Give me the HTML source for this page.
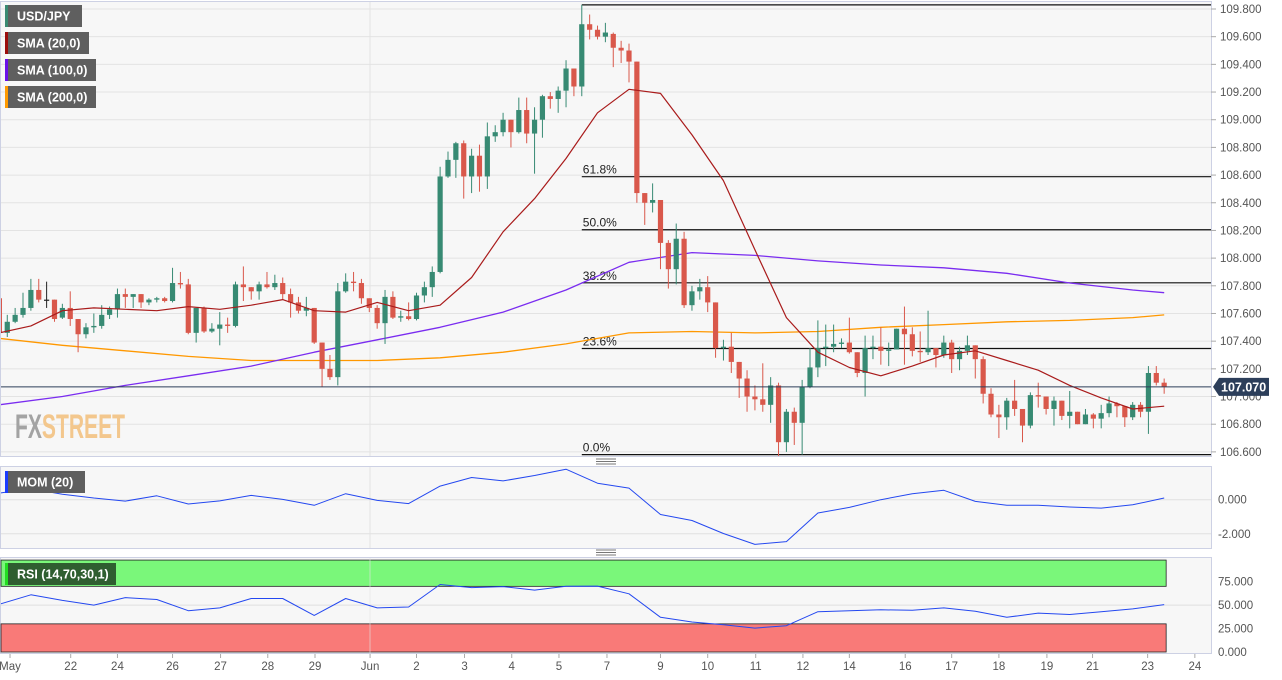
<!DOCTYPE html>
<html><head><meta charset="utf-8"><style>
html,body{margin:0;padding:0;background:#fff;}
svg{display:block;font-family:"Liberation Sans",sans-serif;}
</style></head><body>
<svg id="chart" xmlns="http://www.w3.org/2000/svg" width="1282" height="680" viewBox="0 0 1282 680"></svg>
<script>
// ---- data ----
const opens=[107.71,107.46,107.54,107.59,107.64,107.77,107.70,107.70,107.57,107.64,107.56,107.45,107.50,107.51,107.59,107.63,107.74,107.72,107.74,107.68,107.70,107.71,107.69,107.82,107.81,107.46,107.64,107.47,107.49,107.52,107.51,107.81,107.79,107.76,107.81,107.79,107.82,107.74,107.68,107.62,107.64,107.39,107.20,107.14,107.76,107.83,107.82,107.71,107.64,107.53,107.72,107.57,107.58,107.56,107.73,107.79,107.90,108.59,108.71,108.83,108.59,108.74,108.59,108.88,108.91,109.00,108.91,109.07,108.90,109.00,109.17,109.15,109.21,109.37,109.24,109.69,109.65,109.60,109.62,109.52,109.50,109.42,108.47,108.40,108.42,108.11,107.92,108.14,107.66,107.76,107.79,107.68,107.35,107.36,107.25,107.13,107.00,106.98,106.94,107.08,106.67,106.89,106.81,107.07,107.21,107.35,107.36,107.38,107.39,107.32,107.17,107.35,107.36,107.33,107.34,107.49,107.45,107.33,107.32,107.35,107.30,107.39,107.27,107.33,107.37,107.27,107.02,106.87,106.85,106.97,106.91,106.79,107.01,107.00,106.91,106.97,106.86,106.89,106.80,106.87,106.84,106.88,106.95,106.93,106.85,106.94,106.89,107.17,107.10];
const highs=[107.72,107.59,107.64,107.75,107.85,107.85,107.83,107.70,107.67,107.76,107.56,107.53,107.60,107.66,107.65,107.78,107.78,107.74,107.74,107.71,107.72,107.72,107.93,107.90,107.85,107.64,107.65,107.53,107.61,107.57,107.83,107.94,107.79,107.83,107.90,107.88,107.86,107.78,107.72,107.72,107.64,107.39,107.30,107.82,107.89,107.90,107.85,107.71,107.66,107.77,107.76,107.62,107.68,107.75,107.83,107.94,108.66,108.77,108.84,108.85,108.79,108.82,108.98,108.96,109.05,109.00,109.16,109.16,109.09,109.18,109.20,109.24,109.43,109.37,109.83,109.76,109.68,109.70,109.63,109.57,109.55,109.42,108.47,108.54,108.42,108.13,108.25,108.19,107.80,107.85,107.87,107.68,107.41,107.46,107.25,107.19,107.08,107.24,107.14,107.10,106.91,106.92,107.12,107.35,107.55,107.52,107.52,107.42,107.57,107.32,107.44,107.44,107.50,107.39,107.49,107.65,107.50,107.47,107.62,107.35,107.44,107.41,107.36,107.44,107.37,107.29,107.06,106.94,106.99,107.12,106.91,107.03,107.10,107.00,107.00,106.97,107.04,106.89,106.91,106.88,106.94,107.00,106.96,106.93,106.96,106.96,107.22,107.22,107.13];
const lows=[107.33,107.43,107.53,107.57,107.62,107.68,107.64,107.54,107.56,107.51,107.32,107.42,107.46,107.49,107.56,107.57,107.64,107.64,107.64,107.66,107.68,107.68,107.68,107.78,107.45,107.39,107.46,107.46,107.37,107.46,107.50,107.69,107.70,107.70,107.78,107.77,107.70,107.57,107.60,107.58,107.38,107.07,107.12,107.08,107.75,107.76,107.67,107.61,107.49,107.38,107.56,107.54,107.55,107.55,107.68,107.72,107.89,108.58,108.58,108.43,108.47,108.48,108.50,108.84,108.88,108.80,108.90,108.83,108.61,108.87,109.08,109.05,109.09,109.17,109.17,109.58,109.58,109.56,109.38,109.41,109.27,108.40,108.24,108.33,107.92,107.78,107.81,107.64,107.62,107.70,107.61,107.28,107.26,107.17,106.99,106.89,106.90,106.89,106.81,106.57,106.60,106.65,106.58,107.06,107.14,107.22,107.32,107.35,107.31,107.14,107.00,107.27,107.23,107.22,107.34,107.23,107.29,107.25,107.30,107.21,107.28,107.17,107.19,107.30,107.13,106.95,106.85,106.70,106.76,106.86,106.67,106.77,106.92,106.87,106.79,106.83,106.77,106.80,106.80,106.77,106.77,106.85,106.85,106.78,106.83,106.85,106.73,107.08,107.02];
const closes=[107.46,107.54,107.59,107.64,107.77,107.70,107.70,107.56,107.64,107.56,107.45,107.50,107.51,107.59,107.63,107.74,107.72,107.74,107.68,107.70,107.71,107.69,107.82,107.81,107.46,107.64,107.47,107.49,107.52,107.51,107.81,107.79,107.76,107.81,107.79,107.82,107.74,107.68,107.62,107.64,107.39,107.20,107.14,107.76,107.83,107.82,107.71,107.64,107.53,107.72,107.57,107.58,107.56,107.73,107.79,107.90,108.59,108.71,108.83,108.59,108.74,108.59,108.88,108.91,109.00,108.91,109.07,108.90,109.00,109.17,109.15,109.21,109.37,109.24,109.69,109.65,109.60,109.63,109.52,109.50,109.42,108.47,108.40,108.42,108.11,107.92,108.14,107.66,107.76,107.79,107.68,107.35,107.36,107.25,107.13,107.00,106.98,106.94,107.08,106.67,106.89,106.81,107.07,107.21,107.35,107.36,107.38,107.39,107.32,107.17,107.35,107.36,107.33,107.34,107.49,107.45,107.33,107.32,107.35,107.30,107.39,107.27,107.33,107.37,107.27,107.02,106.87,106.85,106.97,106.91,106.79,107.01,107.00,106.91,106.97,106.86,106.89,106.80,106.87,106.84,106.88,106.95,106.93,106.85,106.94,106.89,107.17,107.10,107.07];
const sma20Step=4;
const sma20=[107.46,107.51,107.62,107.64,107.63,107.62,107.65,107.63,107.66,107.70,107.62,107.61,107.68,107.62,107.66,107.86,108.19,108.43,108.72,109.05,109.22,109.19,108.89,108.56,108.06,107.57,107.32,107.21,107.15,107.22,107.30,107.33,107.26,107.19,107.08,106.99,106.91,106.93];
const smaLongIdx=[0,8,16,24,32,40,48,56,64,72,80,88,96,104,112,120,128,136,144,148];
const sma100=[106.94,107.00,107.08,107.15,107.22,107.32,107.41,107.50,107.61,107.77,107.97,108.04,108.02,107.98,107.95,107.93,107.89,107.82,107.77,107.75];
const sma200=[107.42,107.37,107.33,107.29,107.26,107.26,107.26,107.28,107.32,107.38,107.46,107.47,107.46,107.47,107.50,107.52,107.54,107.55,107.57,107.59];
const oscStep=4;
const mom=[0.39,0.64,0.32,0.10,-0.08,0.23,-0.25,-0.07,0.25,0.02,-0.33,0.35,-0.04,-0.23,0.80,1.30,1.10,1.42,1.79,0.97,0.68,-0.87,-1.22,-1.98,-2.62,-2.46,-0.78,-0.45,0.00,0.35,0.55,-0.10,-0.33,-0.33,-0.43,-0.49,-0.30,0.10];
const rsi=[51,61,55,50,58,56,44,47,57,57,39,57,47,48,72,68.7,69.7,66,70,70.3,62,37,32,29,25.5,28,43,44,45,44.5,47,43.5,37,41.5,40,43,46,50.5];
const priceTicks=[109.8,109.6,109.4,109.2,109.0,108.8,108.6,108.4,108.2,108.0,107.8,107.6,107.4,107.2,107.0,106.8,106.6];
const momTicks=[0,-2];
const rsiTicks=[75,50,25,0];
const dateLabels=["May","22","24","26","27","28","29","Jun","2","3","4","5","7","9","10","11","12","14","16","17","18","19","21","23","24"];
const dateIdx=[1.35,9.06,15.0,22.0,28.1,34.1,40.1,47.1,53.0,59.1,65.1,71.1,77.2,84.0,90.0,96.1,102.1,108.0,115.1,121.0,127.0,133.1,138.9,145.9,151.9];
const fibLevels=[1,0.618,0.5,0.382,0.236,0];
const fibText=["100.0%","61.8%","50.0%","38.2%","23.6%","0.0%"];
const fibHigh=109.83, fibLow=106.58, fibStartIdx=74;
const lastPrice=107.07;

// ---- scales ----
const R=1211;
const xI=i=>-0.6+i*7.87;
const yP=p=>9+(109.8-p)*138.4;
const yM=v=>499.7-v*17.05;
const yR=v=>652-v*0.938;
const NS="http://www.w3.org/2000/svg";
const svg=document.getElementById('chart');
function mk(tag,attrs,parent){const e=document.createElementNS(NS,tag);for(const k in attrs)e.setAttribute(k,attrs[k]);(parent||svg).appendChild(e);return e;}

// defs clip
const defs=mk('defs',{});
const cp=mk('clipPath',{id:'mainclip'},defs);mk('rect',{x:1,y:2,width:R-1,height:454},cp);
const cp2=mk('clipPath',{id:'oscclip'},defs);mk('rect',{x:1,y:466,width:R-1,height:188},cp2);

// panels
let e;
e=mk('rect',{x:0.5,y:1.5,width:R,height:455,fill:'#f7f7f7',stroke:'#cdd1e4'});


e=mk('rect',{x:0.5,y:466.5,width:R,height:82,fill:'#f7f7f7',stroke:'#cdd1e4'});


e=mk('rect',{x:0.5,y:557.5,width:R,height:96,fill:'#f7f7f7',stroke:'#cdd1e4'});



// grid
priceTicks.forEach(v=>{const y=yP(v);
 e=mk('line',{x1:1,x2:R,y1:y,y2:y,stroke:'#e3e3e3'});
 
 
 e=mk('line',{x1:R,x2:R+5,y1:y,y2:y,stroke:'#aaa'});
 
 
 e=mk('text',{x:R+9,y:y+4,'font-size':11.5,fill:'#555'});e.textContent=v.toFixed(3);
 
 
});
[yP(110),].forEach(()=>{});
e=mk('line',{x1:370,x2:370,y1:2,y2:456,stroke:'#e3e3e3'});


momTicks.forEach(v=>{const y=yM(v);
 e=mk('line',{x1:1,x2:R,y1:y,y2:y,stroke:'#e0e0e0'});
 
 
 e=mk('text',{x:R+7,y:y+4,'font-size':11.5,fill:'#555'});e.textContent=(v<0?'-':'')+Math.abs(v).toFixed(3);
 
 
});
e=mk('line',{x1:370,x2:370,y1:467,y2:548,stroke:'#e3e3e3'});



// RSI zones
e=mk('rect',{x:1,y:yR(98),width:xI(148)+1,height:yR(70)-yR(98),fill:'#7af77a',stroke:'#222','stroke-width':0.8});


e=mk('rect',{x:1,y:yR(30),width:xI(148)+1,height:yR(0)-yR(30),fill:'#f97a78',stroke:'#222','stroke-width':0.8});


rsiTicks.forEach(v=>{const y=yR(v);
 if(v===50){e=mk('line',{x1:1,x2:R,y1:y,y2:y,stroke:'#e0e0e0'});
 
 }
 e=mk('text',{x:R+7,y:y+4,'font-size':11.5,fill:'#555'});e.textContent=v.toFixed(3);
 
 
});
e=mk('line',{x1:370,x2:370,y1:558,y2:653,stroke:'#e3e3e3','stroke-opacity':0.6});



// x axis
dateLabels.forEach((t,k)=>{const x=xI(dateIdx[k]);
 e=mk('line',{x1:x,x2:x,y1:654,y2:658,stroke:'#aaa'});
 
 
 e=mk('text',{x:x,y:670,'font-size':11.5,fill:'#555','text-anchor':'middle'});e.textContent=t;
 
 
});

// watermark
e=mk('text',{x:15,y:438,'font-size':34,'font-weight':'bold','font-family':'"Liberation Sans Narrow","Liberation Sans",sans-serif',textLength:110,lengthAdjust:'spacingAndGlyphs'});
e.innerHTML='<tspan fill="#a3a3a3">FX</tspan><tspan fill="#f3c78d">STREET</tspan>';



// main group
const g=mk('g',{'clip-path':'url(#mainclip)'});



// fib lines
fibLevels.forEach((f,k)=>{const p=fibLow+(fibHigh-fibLow)*f;const y=yP(p);const x0=xI(fibStartIdx);
 e=mk('line',{x1:x0,x2:R,y1:y,y2:y,stroke:'#111','stroke-width':1.2},g);
 
 
 e=mk('text',{x:x0+1,y:y-3,'font-size':12,fill:'#222'},g);e.textContent=fibText[k];
 
 
});

// SMA lines
function pl(vals,idxFn,yf,color,name,parent,w){
 const pts=vals.map((v,k)=>xI(idxFn(k)).toFixed(1)+','+yf(v).toFixed(1)).join(' ');
 const l=mk('polyline',{points:pts,fill:'none',stroke:color,'stroke-width':w||1.2,'stroke-linejoin':'round'},parent);
 
 
 return l;}
pl(sma200,k=>smaLongIdx[k],yP,'#ff9800','sma-200-line',g,1.3);
pl(sma100,k=>smaLongIdx[k],yP,'#7a2cf0','sma-100-line',g,1.3);

// candles
for(let i=0;i<opens.length;i++){
 const o=opens[i],h=highs[i],l=lows[i],c=closes[i],x=xI(i);
 const col=c>o?'#378a73':(c<o?'#d9584b':'#222');
 const cg=mk('g',{},g);
 
 
 mk('line',{x1:x,x2:x,y1:yP(h),y2:yP(l),stroke:col,'stroke-width':1},cg);
 const top=yP(Math.max(o,c)),bot=yP(Math.min(o,c));
 mk('rect',{x:x-2.6,y:top,width:5.2,height:Math.max(1.2,bot-top),fill:col},cg);
}
pl(sma20,k=>k*sma20Step,yP,'#a91b1b','sma-20-line',g,1.2);

// last price line
e=mk('line',{x1:1,x2:R,y1:yP(lastPrice),y2:yP(lastPrice),stroke:'#2c3e5a','stroke-width':1});


e=mk('path',{d:`M${R+2},${yP(lastPrice)} l6,-9 h50 v18 h-50 z`,fill:'#2c3e5a'});


e=mk('text',{x:R+10,y:yP(lastPrice)+4.5,'font-size':12.5,'font-weight':'bold',fill:'#fff'});e.textContent=lastPrice.toFixed(3);



// oscillators
const og=mk('g',{'clip-path':'url(#oscclip)'});
pl(mom,k=>k*oscStep,yM,'#2448f0','momentum-line',og,1);
pl(rsi,k=>k*oscStep,yR,'#2448f0','rsi-line',og,1);

// grips
[461,552].forEach(y=>{
 e=mk('g',{});
 
 
 [0,2.5,5].forEach(d=>mk('line',{x1:596,x2:616,y1:y+d-2,y2:y+d-2,stroke:'#777','stroke-width':0.9},e));
});

// legends
function legend(x,y,w,label,strip,bg,name){
 const lg=mk('g',{});
 
 
 mk('rect',{x:x,y:y,width:w,height:22,fill:bg},lg);
 mk('rect',{x:x,y:y,width:3,height:22,fill:strip},lg);
 const t=mk('text',{x:x+12,y:y+15.5,'font-size':12.5,'font-weight':'bold',fill:'#fff'},lg);t.textContent=label;
}
legend(5,5,77,'USD/JPY','#3a8a72','#5f5f5f','legend-usdjpy');
legend(5,32,84,'SMA (20,0)','#9b0d0d','#5f5f5f','legend-sma-20');
legend(5,59,91,'SMA (100,0)','#6a11e8','#5f5f5f','legend-sma-100');
legend(5,86,91,'SMA (200,0)','#ff9a00','#5f5f5f','legend-sma-200');
legend(5,471,80,'MOM (20)','#1a3cff','#5f5f5f','legend-momentum');
legend(5,563,111,'RSI (14,70,30,1)','#22dd22','#2f5e30','legend-rsi');
</script>
</body></html>
